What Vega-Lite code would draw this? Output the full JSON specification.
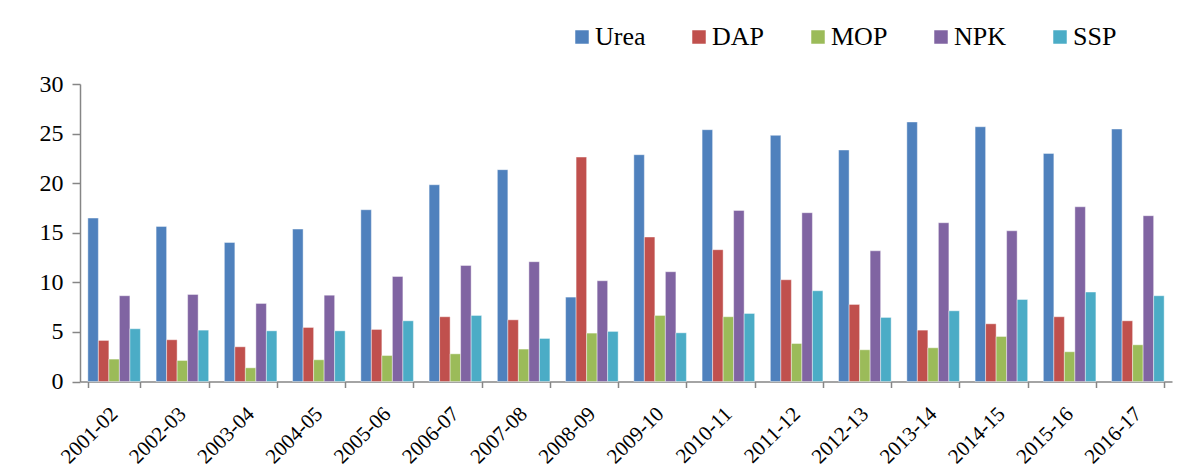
{
  "$schema": "https://vega.github.io/schema/vega-lite/v6.json",
  "autosize": {"type": "none"},
  "padding": {"left": 80, "top": 84, "right": 22, "bottom": 86},
  "width": 1092,
  "height": 297.5,
  "background": "white",
  "config": {"view": {"stroke": null}, "font": "Liberation Serif"},
  "data": {"values": [
    {"year": "2001-02", "type": "Urea", "value": 16.48}, {"year": "2001-02", "type": "DAP", "value": 4.14}, {"year": "2001-02", "type": "MOP", "value": 2.26}, {"year": "2001-02", "type": "NPK", "value": 8.65}, {"year": "2001-02", "type": "SSP", "value": 5.32},
    {"year": "2002-03", "type": "Urea", "value": 15.64}, {"year": "2002-03", "type": "DAP", "value": 4.21}, {"year": "2002-03", "type": "MOP", "value": 2.12}, {"year": "2002-03", "type": "NPK", "value": 8.78}, {"year": "2002-03", "type": "SSP", "value": 5.18},
    {"year": "2003-04", "type": "Urea", "value": 14.02}, {"year": "2003-04", "type": "DAP", "value": 3.5}, {"year": "2003-04", "type": "MOP", "value": 1.38}, {"year": "2003-04", "type": "NPK", "value": 7.87}, {"year": "2003-04", "type": "SSP", "value": 5.11},
    {"year": "2004-05", "type": "Urea", "value": 15.37}, {"year": "2004-05", "type": "DAP", "value": 5.45}, {"year": "2004-05", "type": "MOP", "value": 2.19}, {"year": "2004-05", "type": "NPK", "value": 8.71}, {"year": "2004-05", "type": "SSP", "value": 5.11},
    {"year": "2005-06", "type": "Urea", "value": 17.32}, {"year": "2005-06", "type": "DAP", "value": 5.25}, {"year": "2005-06", "type": "MOP", "value": 2.62}, {"year": "2005-06", "type": "NPK", "value": 10.59}, {"year": "2005-06", "type": "SSP", "value": 6.12},
    {"year": "2006-07", "type": "Urea", "value": 19.84}, {"year": "2006-07", "type": "DAP", "value": 6.53}, {"year": "2006-07", "type": "MOP", "value": 2.79}, {"year": "2006-07", "type": "NPK", "value": 11.7}, {"year": "2006-07", "type": "SSP", "value": 6.66},
    {"year": "2007-08", "type": "Urea", "value": 21.36}, {"year": "2007-08", "type": "DAP", "value": 6.22}, {"year": "2007-08", "type": "MOP", "value": 3.27}, {"year": "2007-08", "type": "NPK", "value": 12.08}, {"year": "2007-08", "type": "SSP", "value": 4.34},
    {"year": "2008-09", "type": "Urea", "value": 8.51}, {"year": "2008-09", "type": "DAP", "value": 22.63}, {"year": "2008-09", "type": "MOP", "value": 4.88}, {"year": "2008-09", "type": "NPK", "value": 10.16}, {"year": "2008-09", "type": "SSP", "value": 5.05},
    {"year": "2009-10", "type": "Urea", "value": 22.87}, {"year": "2009-10", "type": "DAP", "value": 14.57}, {"year": "2009-10", "type": "MOP", "value": 6.66}, {"year": "2009-10", "type": "NPK", "value": 11.07}, {"year": "2009-10", "type": "SSP", "value": 4.91},
    {"year": "2010-11", "type": "Urea", "value": 25.39}, {"year": "2010-11", "type": "DAP", "value": 13.29}, {"year": "2010-11", "type": "MOP", "value": 6.53}, {"year": "2010-11", "type": "NPK", "value": 17.25}, {"year": "2010-11", "type": "SSP", "value": 6.86},
    {"year": "2011-12", "type": "Urea", "value": 24.82}, {"year": "2011-12", "type": "DAP", "value": 10.26}, {"year": "2011-12", "type": "MOP", "value": 3.83}, {"year": "2011-12", "type": "NPK", "value": 17.02}, {"year": "2011-12", "type": "SSP", "value": 9.15},
    {"year": "2012-13", "type": "Urea", "value": 23.34}, {"year": "2012-13", "type": "DAP", "value": 7.77}, {"year": "2012-13", "type": "MOP", "value": 3.2}, {"year": "2012-13", "type": "NPK", "value": 13.18}, {"year": "2012-13", "type": "SSP", "value": 6.46},
    {"year": "2013-14", "type": "Urea", "value": 26.17}, {"year": "2013-14", "type": "DAP", "value": 5.18}, {"year": "2013-14", "type": "MOP", "value": 3.4}, {"year": "2013-14", "type": "NPK", "value": 16.01}, {"year": "2013-14", "type": "SSP", "value": 7.13},
    {"year": "2014-15", "type": "Urea", "value": 25.69}, {"year": "2014-15", "type": "DAP", "value": 5.82}, {"year": "2014-15", "type": "MOP", "value": 4.54}, {"year": "2014-15", "type": "NPK", "value": 15.2}, {"year": "2014-15", "type": "SSP", "value": 8.27},
    {"year": "2015-16", "type": "Urea", "value": 23.0}, {"year": "2015-16", "type": "DAP", "value": 6.53}, {"year": "2015-16", "type": "MOP", "value": 3.0}, {"year": "2015-16", "type": "NPK", "value": 17.62}, {"year": "2015-16", "type": "SSP", "value": 9.02},
    {"year": "2016-17", "type": "Urea", "value": 25.46}, {"year": "2016-17", "type": "DAP", "value": 6.12}, {"year": "2016-17", "type": "MOP", "value": 3.7}, {"year": "2016-17", "type": "NPK", "value": 16.72}, {"year": "2016-17", "type": "SSP", "value": 8.65}
  ]},
  "mark": {"type": "bar", "stroke": "#ffffff", "strokeWidth": 0.6, "strokeOpacity": 0.7},
  "encoding": {
    "x": {
      "field": "year", "type": "nominal", "sort": null,
      "scale": {"paddingInner": 0.23, "paddingOuter": 0.115},
      "axis": {"title": null, "labelAngle": -45, "labelAlign": "right", "labelBaseline": "middle", "labelFont": "Liberation Serif", "labelFontSize": 21, "labelColor": "black", "labelPadding": 23, "tickBand": "extent", "tickSize": 6, "tickColor": "#868686", "tickWidth": 1.5, "domainColor": "#868686", "domainWidth": 1.5, "grid": false}
    },
    "xOffset": {"field": "type", "type": "nominal", "sort": ["Urea", "DAP", "MOP", "NPK", "SSP"], "scale": {"paddingInner": 0, "paddingOuter": 0}},
    "y": {
      "field": "value", "type": "quantitative",
      "scale": {"domain": [0, 30], "nice": false},
      "axis": {"title": null, "values": [0, 5, 10, 15, 20, 25, 30], "labelFont": "Liberation Serif", "labelFontSize": 24, "labelColor": "black", "labelPadding": 9, "tickSize": 8, "tickColor": "#868686", "tickWidth": 1.5, "domainColor": "#868686", "domainWidth": 1.5, "grid": false}
    },
    "color": {
      "field": "type", "type": "nominal",
      "scale": {"domain": ["Urea", "DAP", "MOP", "NPK", "SSP"], "range": ["#4F81BD", "#C0504D", "#9BBB59", "#8064A2", "#4BACC6"]},
      "legend": {"title": null, "orient": "none", "direction": "horizontal", "columns": 5, "legendX": 489, "legendY": -60, "symbolType": "square", "symbolSize": 182, "symbolStrokeWidth": 0, "labelFontSize": 26, "labelFont": "Liberation Serif", "labelColor": "black", "columnPadding": 40, "labelOffset": 0, "padding": 0}
    }
  }
}
